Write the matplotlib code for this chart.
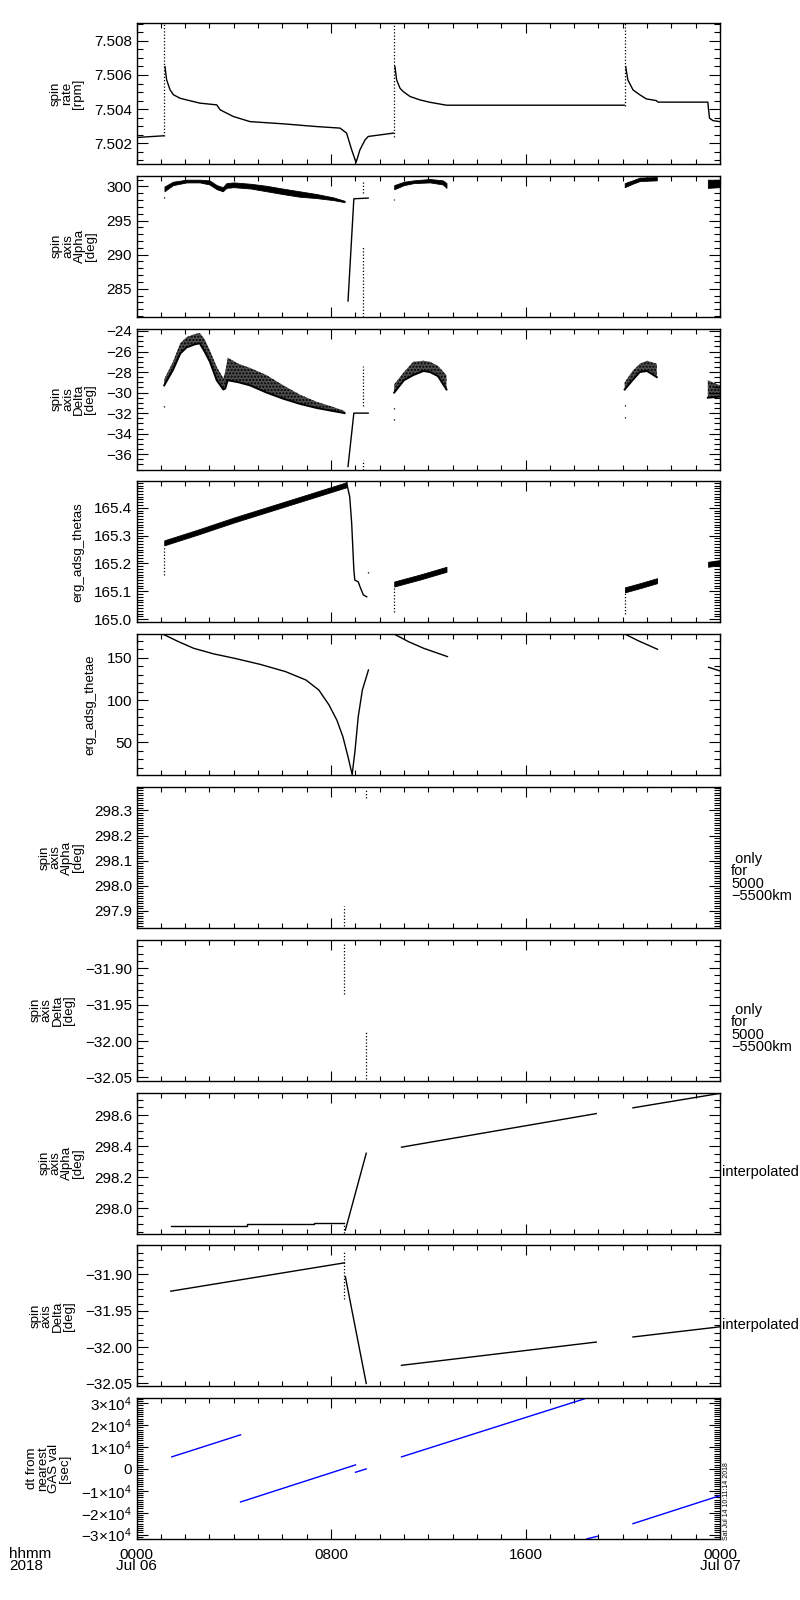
import numpy as np
import matplotlib
matplotlib.use("Agg")
import matplotlib.pyplot as plt
from matplotlib.ticker import MultipleLocator, FixedLocator, FuncFormatter

plt.rcParams['font.family'] = ['Liberation Sans', 'DejaVu Sans']
plt.rcParams['mathtext.fontset'] = 'custom'
plt.rcParams['mathtext.rm'] = 'Liberation Sans'
plt.rcParams['axes.unicode_minus'] = True
plt.rcParams['hatch.linewidth'] = 1.0

nan = np.nan
# ---------------- time axis (hours since 2018-07-06 00:00 UT) ----------------
XTICK_HOURS = [0, 8, 16, 24]
XTICK_LABELS = ['0000\nJul 06', '0800', '1600', '0000\nJul 07']

# ---------------- panel 1 : spin rate [rpm] ----------------
rate_t = [0.0, 1.11, nan,
          1.17, 1.24, 1.38, 1.52, 1.79, 2.06, 2.61, 3.30, 3.44, 3.98, 4.67, 6.04, 7.41,
          8.37, 8.64, 8.85, 9.03, 9.19, 9.40, 9.53, 10.58, nan,
          10.63, 10.70, 10.84, 10.97, 11.25, 11.66, 12.07, 12.75, 20.06, nan,
          20.12, 20.21, 20.42, 20.70, 20.97, 21.38, 21.45, 23.50, 23.53, 23.57, 23.71, 23.98]
rate_v = [7.50234, 7.50244, nan,
          7.50649, 7.50571, 7.50513, 7.50484, 7.50464, 7.50454, 7.50435, 7.50425, 7.50396,
          7.50357, 7.50327, 7.50314, 7.50298,
          7.50289, 7.50260, 7.50162, 7.50088, 7.50162, 7.50220, 7.50240, 7.50260, nan,
          7.50649, 7.50571, 7.50522, 7.50503, 7.50474, 7.50454, 7.50440, 7.50423, 7.50423, nan,
          7.50649, 7.50571, 7.50513, 7.50484, 7.50460, 7.50450, 7.50441, 7.50441, 7.50396,
          7.50347, 7.50333, 7.50327]
rate_spike_t = [1.15, 10.60, 20.08]
rate_spike_lo = [7.50240, 7.50235, 7.50420]
rate_spike_hi = [7.50910, 7.50910, 7.50910]

# ---------------- panel 2 : spin axis Alpha [deg] ----------------
alpha_t = [1.15, 1.5, 2.06, 2.6, 3.0, 3.3, 3.55, 3.7, 4.0, 4.7, 5.35, 6.0, 6.7, 7.4, 8.1, 8.56, nan,
           10.6, 11.0, 11.4, 12.07, 12.6, 12.75, nan,
           20.08, 20.4, 20.7, 21.4, nan,
           23.5, 24.0]
alpha_lo = [299.3, 300.2, 300.6, 300.6, 300.3, 299.6, 299.3, 299.8, 299.9, 299.7, 299.3, 298.9,
            298.5, 298.3, 298.0, 297.7, nan,
            299.6, 300.2, 300.5, 300.6, 300.3, 299.8, nan,
            299.9, 300.4, 300.8, 300.9, nan,
            299.8, 299.9]
alpha_hi = [300.0, 300.7, 301.0, 301.0, 300.9, 300.2, 299.9, 300.5, 300.6, 300.4, 300.1, 299.7,
            299.3, 298.9, 298.4, 297.9, nan,
            300.2, 300.7, 300.9, 301.1, 300.9, 300.5, nan,
            300.5, 300.9, 301.3, 301.4, nan,
            301.0, 301.0]
alpha_jump_t = [8.70, 8.94, 9.53]
alpha_jump_v = [283.2, 298.2, 298.3]
alpha_dot_t = [1.15, 9.30, 9.30, 10.60, 20.08]
alpha_dot_lo = [298.3, 299.1, 280.9, 298.0, 298.7]
alpha_dot_hi = [298.6, 301.0, 291.2, 298.2, 298.8]

# ---------------- panel 3 : spin axis Delta [deg] ----------------
delta_t = [1.14, 1.5, 1.8, 2.06, 2.4, 2.6, 2.8, 3.02, 3.3, 3.57, 3.65, 3.75, 4.2, 4.67, 5.35,
           6.04, 6.72, 7.41, 8.09, 8.56, nan,
           10.6, 11.0, 11.38, 11.8, 12.07, 12.4, 12.75, nan,
           20.08, 20.4, 20.7, 21.0, 21.4, nan,
           23.5, 24.0]
delta_lo = [-29.3, -27.8, -26.2, -25.6, -25.3, -25.2, -26.0, -27.0, -28.8, -29.7, -29.6, -28.8,
            -29.0, -29.3, -30.0, -30.6, -31.1, -31.5, -31.8, -32.0, nan,
            -30.0, -28.8, -28.3, -27.9, -28.0, -28.4, -29.7, nan,
            -29.7, -28.8, -28.0, -27.9, -28.5, nan,
            -30.5, -30.4]
delta_hi = [-28.7, -27.0, -25.2, -24.6, -24.3, -24.2, -24.8, -25.9, -27.5, -28.6, -28.0, -26.6,
            -27.2, -27.6, -28.3, -29.3, -30.2, -30.9, -31.4, -31.8, nan,
            -29.2, -28.0, -27.0, -26.9, -27.0, -27.4, -28.3, nan,
            -29.0, -27.9, -27.2, -26.9, -27.2, nan,
            -28.8, -29.3]
delta_jump_t = [8.70, 8.94, 9.53]
delta_jump_v = [-37.2, -32.0, -32.0]
delta_dot_t = [1.14, 9.30, 9.30, 10.60, 10.60, 20.08, 20.08]
delta_dot_lo = [-31.4, -31.35, -37.5, -31.6, -32.7, -31.3, -32.5]
delta_dot_hi = [-31.2, -27.4, -36.6, -31.4, -32.5, -31.1, -32.3]

# ---------------- panel 4 : erg_adsg_thetas ----------------
thetas_t = [1.14, 2.5, 4.0, 5.5, 7.0, 8.64, nan,
            10.6, 11.7, 12.75, nan,
            20.09, 20.75, 21.41, nan,
            23.51, 24.0]
thetas_c = [165.274, 165.312, 165.356, 165.397, 165.438, 165.483, nan,
            165.126, 165.152, 165.179, nan,
            165.105, 165.121, 165.138, nan,
            165.197, 165.203]
thetas_drop_t = [8.64, 8.77, 8.85, 8.94, 8.98, 9.12, 9.19, 9.33, 9.47]
thetas_drop_v = [165.490, 165.440, 165.345, 165.177, 165.140, 165.134, 165.117, 165.087, 165.080]
thetas_dot_t = [1.14, 9.53, 10.60, 20.09]
thetas_dot_lo = [165.160, 165.165, 165.026, 165.018]
thetas_dot_hi = [165.262, 165.175, 165.115, 165.095]

# ---------------- panel 5 : erg_adsg_thetae ----------------
thetae_t = [1.09, 1.72, 2.35, 3.19, 4.03, 5.08, 6.13, 6.97, 7.50, 7.92, 8.24, 8.49, 8.70, 8.87,
            8.99, 9.12, 9.29, 9.54, nan,
            10.61, 11.18, 11.81, 12.79, nan,
            20.10, 20.63, 21.43, nan,
            23.53, 24.0]
thetae_v = [177.6, 168.9, 161.0, 154.3, 149.2, 142.1, 133.5, 123.6, 111.8, 94.1, 76.4, 56.7, 33.1, 12.2,
            40.9, 80.3, 111.8, 135.4, nan,
            177.6, 168.9, 161.0, 151.2, nan,
            177.6, 170.0, 159.8, nan,
            138.6, 134.3]

# ---------------- panels 6/7 : spin axis only for 5000-5500 km ----------------
alt_alpha_t = [8.55, 9.43]
alt_alpha_lo = [297.84, 298.35]
alt_alpha_hi = [297.92, 298.38]
alt_delta_t = [8.55, 9.43]
alt_delta_lo = [-31.936, -32.052]
alt_delta_hi = [-31.867, -31.988]

# ---------------- panels 8/9 : interpolated spin axis ----------------
ialpha_step_t = [1.41, 1.93, 4.56, 7.29, 8.55]
ialpha_step_v = [297.886, 297.890, 297.897, 297.903, 297.903]
ialpha_t = [8.59, 9.45, nan, 10.90, 18.91, nan, 20.42, 24.0]
ialpha_v = [297.860, 298.355, nan, 298.394, 298.610, nan, 298.647, 298.740]
ialpha_dot = (8.55, 297.844, 297.903)
idelta_t = [1.41, 8.55, nan, 8.59, 9.45, nan, 10.90, 18.91, nan, 20.42, 24.0]
idelta_v = [-31.923, -31.884, nan, -31.903, -32.050, nan, -32.025, -31.993, nan, -31.986, -31.972]
idelta_dot = (8.55, -31.934, -31.868)

# ---------------- panel 10 : dt from nearest GAS val [sec] ----------------
dt_t = [1.45, 4.28, nan, 4.28, 9.01, nan, 9.01, 9.45, nan, 10.90, 18.42, nan,
        18.53, 18.95, nan, 20.42, 24.0]
dt_v = [5500, 15570, nan, -15100, 1830, nan, -1530, 0, nan, 5500, 32000, nan,
        -31900, -30800, nan, -25000, -12200]

# ---------------- axis settings ----------------
YLIMS = [(7.50079, 7.50904), (280.88, 301.57), (-37.5, -23.77), (164.988, 165.495),
         (11.4, 177.6), (297.832, 298.393), (-32.0546, -31.861), (297.838, 298.745),
         (-32.054, -31.860), (-32100, 32300)]
YMAJ = [0.002, 5, 2, 0.1, 50, 0.1, 0.05, 0.2, 0.05, 10000]
YMIN = [0.0005, 1, 0.5, 0.01, 10, 0.01, 0.01, 0.05, 0.01, 1000]
YFMT = ['%.3f', '%d', '%d', '%.1f', '%d', '%.1f', '%.2f', '%.1f', '%.2f', None]
YLABELS = ['spin\nrate\n[rpm]', 'spin\naxis\nAlpha\n[deg]', 'spin\naxis\nDelta\n[deg]',
           'erg_adsg_thetas', 'erg_adsg_thetae',
           'spin\naxis\nAlpha\n[deg]', 'spin\naxis\nDelta\n[deg]',
           'spin\naxis\nAlpha\n[deg]', 'spin\naxis\nDelta\n[deg]',
           'dt from\nnearest\nGAS val\n[sec]']

W, H = 800, 1600
fig = plt.figure(figsize=(8, 16), dpi=100)
fig.patch.set_facecolor('white')

x0, x1 = 136.5, 720.0
ph, pitch, top0 = 141.0, 152.8, 23.0
axes = []
for i in range(10):
    top = top0 + i * pitch
    ax = fig.add_axes([x0 / W, 1 - (top + ph) / H, (x1 - x0) / W, ph / H])
    axes.append(ax)


def seg_split(t, *ys):
    t = np.asarray(t, float)
    ys = [np.asarray(y, float) for y in ys]
    cuts = np.where(np.isnan(t))[0]
    start = 0
    out = []
    for c in list(cuts) + [len(t)]:
        if c > start:
            out.append((t[start:c],) + tuple(y[start:c] for y in ys))
        start = c + 1
    return out


def band(ax, t, lo, hi, color='k'):
    for tt, l, h in seg_split(t, lo, hi):
        ax.fill_between(tt, l, h, color=color, lw=0.6, edgecolor=color)


def stipple_band(ax, t, lo, hi):
    for tt, l, h in seg_split(t, lo, hi):
        ax.fill_between(tt, l, h, facecolor='0.3', edgecolor='k', hatch='.....', lw=0)
        ax.plot(tt, l, color='k', lw=1.4)


def dots(ax, t, lo, hi, color='k'):
    ax.vlines(t, lo, hi, colors=color, linestyles=(0, (1, 1.6)), lw=0.9)


def minus_fmt(fmt):
    return FuncFormatter(lambda v, p: (fmt % v).replace('-', '\u2212'))


for i, ax in enumerate(axes):
    ax.set_xlim(0, 24)
    ax.set_ylim(*YLIMS[i])
    ax.xaxis.set_major_locator(FixedLocator(XTICK_HOURS))
    ax.xaxis.set_minor_locator(MultipleLocator(1))
    ax.yaxis.set_major_locator(MultipleLocator(YMAJ[i]))
    ax.yaxis.set_minor_locator(MultipleLocator(YMIN[i]))
    if YFMT[i]:
        ax.yaxis.set_major_formatter(minus_fmt(YFMT[i]))
    ax.tick_params(axis='x', which='major', direction='in', length=7.2, width=0.8,
                   top=True, bottom=True, pad=6.0, labelsize=11)
    ax.tick_params(axis='x', which='minor', direction='in', length=3.6, width=0.8,
                   top=True, bottom=True)
    ax.tick_params(axis='y', which='major', direction='in', length=7.9, width=0.8,
                   left=True, right=True, pad=3.2, labelsize=11)
    ax.tick_params(axis='y', which='minor', direction='in', length=4.3, width=0.8,
                   left=True, right=True)
    for s in ax.spines.values():
        s.set_linewidth(1.0)
    ax.set_ylabel(YLABELS[i], fontsize=9.6, linespacing=0.92, labelpad=7.0)
    if i < 9:
        ax.tick_params(axis='x', labelbottom=False)

# panel 1
ax = axes[0]
ax.plot(rate_t, rate_v, color='k', lw=1.0)
dots(ax, rate_spike_t, rate_spike_lo, rate_spike_hi)

# panel 2
ax = axes[1]
band(ax, alpha_t, alpha_lo, alpha_hi)
ax.plot(alpha_jump_t, alpha_jump_v, color='k', lw=1.0)
dots(ax, alpha_dot_t, alpha_dot_lo, alpha_dot_hi)

# panel 3
ax = axes[2]
stipple_band(ax, delta_t, delta_lo, delta_hi)
ax.plot(delta_jump_t, delta_jump_v, color='k', lw=1.0)
dots(ax, delta_dot_t, delta_dot_lo, delta_dot_hi)

# panel 4
ax = axes[3]
tc = np.asarray(thetas_c, float)
band(ax, thetas_t, tc - 0.009, tc + 0.009)
ax.plot(thetas_drop_t, thetas_drop_v, color='k', lw=1.0)
dots(ax, thetas_dot_t, thetas_dot_lo, thetas_dot_hi)

# panel 5
ax = axes[4]
ax.plot(thetae_t, thetae_v, color='k', lw=1.0)

# panel 6 / 7
dots(axes[5], alt_alpha_t, alt_alpha_lo, alt_alpha_hi)
dots(axes[6], alt_delta_t, alt_delta_lo, alt_delta_hi)

# panel 8 / 9
ax = axes[7]
ax.plot(ialpha_step_t, ialpha_step_v, color='k', lw=1.0, drawstyle='steps-post')
ax.plot(ialpha_t, ialpha_v, color='k', lw=1.0)
dots(ax, [ialpha_dot[0]], [ialpha_dot[1]], [ialpha_dot[2]])
ax = axes[8]
ax.plot(idelta_t, idelta_v, color='k', lw=1.0)
dots(ax, [idelta_dot[0]], [idelta_dot[1]], [idelta_dot[2]])

# panel 10
ax = axes[9]
ax.plot(dt_t, dt_v, color='#0000ff', lw=1.0)


def dt_fmt(v, pos):
    n = int(round(v / 1e4))
    if n == 0:
        return '0'
    return r'$\mathregular{%d{\times}10^{4}}$' % n


ax.yaxis.set_major_formatter(FuncFormatter(dt_fmt))
ax.set_xticks(XTICK_HOURS)
ax.set_xticklabels(XTICK_LABELS)
for lbl in ax.get_xticklabels():
    lbl.set_linespacing(0.8)
    lbl.set_verticalalignment('top')

# side annotations
fig.text(731 / W, 1 - 852 / H, ' only\nfor\n5000\n\u22125500km', ha='left', va='top',
         fontsize=10.5, linespacing=0.85)
fig.text(731 / W, 1 - 1003 / H, ' only\nfor\n5000\n\u22125500km', ha='left', va='top',
         fontsize=10.5, linespacing=0.85)
fig.text(722 / W, 1 - 1172 / H, 'interpolated', ha='left', va='center', fontsize=10.5)
fig.text(722 / W, 1 - 1325 / H, 'interpolated', ha='left', va='center', fontsize=10.5)
fig.text(9 / W, 1 - 1547 / H, 'hhmm\n2018', ha='left', va='top', fontsize=11, linespacing=0.8)
fig.text(727 / W, 1 - 1540 / H, 'Sat Jul 14 10:11:14 2018', rotation=90, ha='center',
         va='bottom', fontsize=5)

fig.savefig('out.png', dpi=100, facecolor='white')
